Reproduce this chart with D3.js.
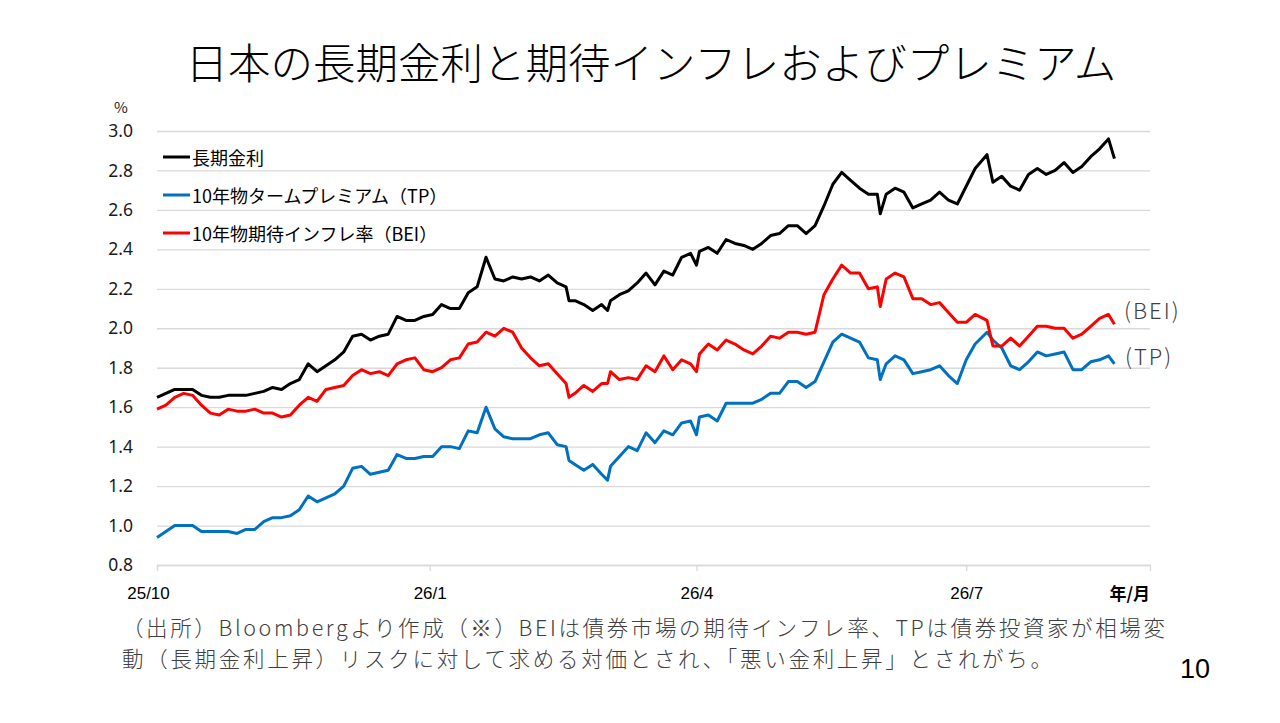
<!DOCTYPE html>
<html>
<head>
<meta charset="utf-8">
<script src="https://cdn.jsdelivr.net/npm/d3@7"></script>
<style>
  body { margin: 0; background: #fff; }
  svg { display: block; }
</style>
</head>
<body>
<div id="canvas"></div>
<script>
"use strict"

/* Data (percent) */
let dates = [
  "2025-10-01","2025-10-04","2025-10-07","2025-10-10","2025-10-13","2025-10-16","2025-10-19","2025-10-22",
  "2025-10-25","2025-10-28","2025-10-31","2025-11-03","2025-11-06","2025-11-09","2025-11-12","2025-11-15",
  "2025-11-18","2025-11-21","2025-11-24","2025-11-27","2025-11-30","2025-12-03","2025-12-06","2025-12-09",
  "2025-12-12","2025-12-15","2025-12-18","2025-12-21","2025-12-24","2025-12-27","2025-12-30","2026-01-02",
  "2026-01-05","2026-01-08","2026-01-11","2026-01-14","2026-01-17","2026-01-20","2026-01-23","2026-01-26",
  "2026-01-29","2026-02-01","2026-02-04","2026-02-07","2026-02-10","2026-02-13","2026-02-16","2026-02-17",
  "2026-02-19","2026-02-22","2026-02-25","2026-02-28","2026-03-02","2026-03-03","2026-03-06","2026-03-09",
  "2026-03-12","2026-03-15","2026-03-18","2026-03-21","2026-03-24","2026-03-27","2026-03-30","2026-04-01",
  "2026-04-02","2026-04-05","2026-04-08","2026-04-11","2026-04-14","2026-04-17","2026-04-20","2026-04-23",
  "2026-04-26","2026-04-29","2026-05-02","2026-05-05","2026-05-08","2026-05-11","2026-05-14","2026-05-17",
  "2026-05-20","2026-05-23","2026-05-26","2026-05-29","2026-06-01","2026-06-02","2026-06-04","2026-06-07",
  "2026-06-10","2026-06-13","2026-06-16","2026-06-19","2026-06-22","2026-06-25","2026-06-28","2026-07-01",
  "2026-07-04","2026-07-08","2026-07-10","2026-07-13","2026-07-16","2026-07-19","2026-07-22","2026-07-25",
  "2026-07-28","2026-07-31","2026-08-03","2026-08-06","2026-08-09","2026-08-12","2026-08-15","2026-08-18",
  "2026-08-20"
];

// 長期金利
let longRate = [
  1.65,1.67,1.69,1.69,1.69,1.66,1.65,1.65, 1.66,1.66,1.66,1.67,1.68,1.70,1.69,1.72,
  1.74,1.82,1.78,1.81,1.84,1.88,1.96,1.97, 1.94,1.96,1.97,2.06,2.04,2.04,2.06,2.07,
  2.12,2.10,2.10,2.18,2.21,2.36,2.25,2.24, 2.26,2.25,2.26,2.24,2.27,2.23,2.21,2.14,
  2.14,2.12,2.09,2.12,2.09,2.14,2.17,2.19, 2.23,2.28,2.22,2.29,2.27,2.36,2.38,2.32,
  2.39,2.41,2.38,2.45,2.43,2.42,2.40,2.43, 2.47,2.48,2.52,2.52,2.48,2.52,2.62,2.73,
  2.79,2.75,2.71,2.68,2.68,2.58,2.68,2.71, 2.69,2.61,2.63,2.65,2.69,2.65,2.63,2.72,
  2.81,2.88,2.74,2.77,2.72,2.70,2.78,2.81, 2.78,2.80,2.84,2.79,2.82,2.87,2.91,2.96,
  2.86
];

// 10年物タームプレミアム（TP）
let termPremium = [
  0.94,0.97,1.00,1.00,1.00,0.97,0.97,0.97, 0.97,0.96,0.98,0.98,1.02,1.04,1.04,1.05,
  1.08,1.15,1.12,1.14,1.16,1.20,1.29,1.30, 1.26,1.27,1.28,1.36,1.34,1.34,1.35,1.35,
  1.40,1.40,1.39,1.48,1.47,1.60,1.49,1.45, 1.44,1.44,1.44,1.46,1.47,1.41,1.40,1.33,
  1.31,1.28,1.31,1.26,1.23,1.30,1.35,1.40, 1.38,1.47,1.42,1.48,1.46,1.52,1.53,1.46,
  1.55,1.56,1.53,1.62,1.62,1.62,1.62,1.64, 1.67,1.67,1.73,1.73,1.70,1.73,1.83,1.93,
  1.97,1.95,1.93,1.85,1.84,1.74,1.82,1.86, 1.84,1.77,1.78,1.79,1.81,1.76,1.72,1.84,
  1.92,1.98,1.94,1.90,1.81,1.79,1.83,1.88, 1.86,1.87,1.88,1.79,1.79,1.83,1.84,1.86,
  1.82
];

// 10年物期待インフレ率（BEI）
let bei = [
  1.59,1.61,1.65,1.67,1.66,1.61,1.57,1.56, 1.59,1.58,1.58,1.59,1.57,1.57,1.55,1.56,
  1.61,1.65,1.63,1.69,1.70,1.71,1.76,1.79, 1.77,1.78,1.76,1.82,1.84,1.85,1.79,1.78,
  1.80,1.84,1.85,1.92,1.93,1.98,1.96,2.00, 1.98,1.90,1.85,1.81,1.82,1.77,1.72,1.65,
  1.67,1.71,1.68,1.72,1.72,1.78,1.74,1.75, 1.74,1.81,1.78,1.86,1.79,1.84,1.82,1.78,
  1.87,1.92,1.89,1.94,1.92,1.89,1.87,1.91, 1.96,1.95,1.98,1.98,1.97,1.98,2.17,2.25,
  2.32,2.28,2.28,2.20,2.21,2.11,2.25,2.28, 2.26,2.15,2.15,2.12,2.13,2.08,2.03,2.03,
  2.07,2.04,1.91,1.91,1.95,1.91,1.96,2.01, 2.01,2.00,2.00,1.95,1.97,2.01,2.05,2.07,
  2.02
];

let seriesNames = ["長期金利", "10年物タームプレミアム（TP）", "10年物期待インフレ率（BEI）"];
let seriesColors = ["#000000", "#0070C0", "#FF0000"];
let yTicks = [0.8, 1.0, 1.2, 1.4, 1.6, 1.8, 2.0, 2.2, 2.4, 2.6, 2.8, 3.0];
let xTickDates = ["2025-10-01", "2026-01-01", "2026-04-01", "2026-07-01"];
let xDomainDates = ["2025-10-01", "2026-09-01"];

/* Drawing config */
let svgWidth = 1280;
let svgHeight = 723;
let plotLeft = 157, plotRight = 1150, plotTop = 131, plotBottom = 565;
let jp = "'Noto Sans CJK JP', 'Noto Sans', sans-serif";

let parseDate = d3.timeParse("%Y-%m-%d");

let svg = d3.select("#canvas")
    .append("svg")
    .attr("width", svgWidth)
    .attr("height", svgHeight);

svg.append("rect")
    .attr("width", svgWidth)
    .attr("height", svgHeight)
    .attr("fill", "#fff");

let xScale = d3.scaleTime()
    .domain(xDomainDates.map(parseDate))
    .range([plotLeft, plotRight]);

let yScale = d3.scaleLinear()
    .domain([0.8, 3.0])
    .range([plotBottom, plotTop]);

/* Title */
svg.append("text")
    .attr("x", 651)
    .attr("y", 79)
    .attr("text-anchor", "middle")
    .style("font-family", jp)
    .style("font-weight", 300)
    .style("font-size", "42.5px")
    .attr("fill", "#000")
    .text("日本の長期金利と期待インフレおよびプレミアム");

/* Y gridlines + labels */
let yAxis = svg.append("g")
    .attr("transform", "translate(" + plotLeft + ",0)")
    .call(d3.axisLeft(yScale)
        .tickValues(yTicks)
        .tickFormat(d3.format(".1f"))
        .tickSize(-(plotRight - plotLeft))
        .tickPadding(24));
yAxis.select(".domain").remove();
yAxis.selectAll(".tick line")
    .attr("stroke", "#d9d9d9")
    .attr("stroke-width", 1.3);
yAxis.selectAll(".tick text")
    .style("font-family", "'Noto Sans', sans-serif")
    .style("font-size", "17.5px")
    .attr("fill", "#1a1a1a");

svg.append("text")
    .attr("x", 121)
    .attr("y", 113)
    .attr("text-anchor", "middle")
    .style("font-family", jp)
    .style("font-size", "15px")
    .attr("fill", "#1a1a1a")
    .text("%");

/* X axis */
let xAxis = svg.append("g")
    .attr("transform", "translate(0," + plotBottom + ")")
    .call(d3.axisBottom(xScale)
        .tickValues(xTickDates.map(parseDate))
        .tickFormat(d3.timeFormat("%y/%-m"))
        .tickSize(6)
        .tickPadding(16));
xAxis.select(".domain")
    .attr("stroke", "#d9d9d9")
    .attr("stroke-width", 1.3);
xAxis.selectAll(".tick line")
    .attr("stroke", "#d9d9d9")
    .attr("stroke-width", 1.3);
xAxis.selectAll(".tick text")
    .style("font-family", "'Liberation Sans Narrow', 'Liberation Sans', sans-serif")
    .style("font-size", "17px")
    .attr("fill", "#000")
    .attr("dx", function (d, i) { return i === 0 ? -9 : 0; });

svg.append("text")
    .attr("x", plotRight)
    .attr("y", 600)
    .attr("text-anchor", "end")
    .style("font-family", jp)
    .style("font-weight", 700)
    .style("font-size", "17px")
    .attr("fill", "#000")
    .text("年/月");

/* Lines */
let seriesValues = [longRate, termPremium, bei];
let parsedDates = dates.map(parseDate);

let line = d3.line()
    .x(function (d) { return xScale(d.date); })
    .y(function (d) { return yScale(d.value); });

seriesValues.forEach(function (values, s) {
    let points = values.map(function (v, i) { return { date: parsedDates[i], value: v }; });
    svg.append("path")
        .datum(points)
        .attr("fill", "none")
        .attr("stroke", seriesColors[s])
        .attr("stroke-width", 3)
        .attr("stroke-linejoin", "round")
        .attr("d", line);
});

/* Legend */
let legendY = [157, 195, 233];
seriesNames.forEach(function (name, i) {
    svg.append("line")
        .attr("x1", 163)
        .attr("x2", 190)
        .attr("y1", legendY[i])
        .attr("y2", legendY[i])
        .attr("stroke", seriesColors[i])
        .attr("stroke-width", 3);
    svg.append("text")
        .attr("x", 192)
        .attr("y", legendY[i])
        .attr("dominant-baseline", "central")
        .style("font-family", jp)
        .style("font-size", "18px")
        .attr("fill", "#000")
        .text(name);
});

/* Right-side labels */
svg.append("text")
    .attr("x", 1124)
    .attr("y", 309)
    .attr("dominant-baseline", "central")
    .style("font-family", jp)
    .style("font-weight", 300)
    .style("font-size", "22px")
    .style("letter-spacing", "2px")
    .attr("fill", "#404040")
    .text("(BEI)");

svg.append("text")
    .attr("x", 1125)
    .attr("y", 355)
    .attr("dominant-baseline", "central")
    .style("font-family", jp)
    .style("font-weight", 300)
    .style("font-size", "22px")
    .style("letter-spacing", "2px")
    .attr("fill", "#404040")
    .text("(TP)");

/* Footnote */
svg.append("text")
    .attr("x", 122)
    .attr("y", 636)
    .attr("textLength", 1043)
    .attr("lengthAdjust", "spacing")
    .style("font-family", jp)
    .style("font-weight", 300)
    .style("font-size", "21.5px")
    .attr("fill", "#404040")
    .text("（出所）Bloombergより作成（※）BEIは債券市場の期待インフレ率、TPは債券投資家が相場変");

svg.append("text")
    .attr("x", 122)
    .attr("y", 667)
    .attr("textLength", 930)
    .attr("lengthAdjust", "spacing")
    .style("font-family", jp)
    .style("font-weight", 300)
    .style("font-size", "21.5px")
    .attr("fill", "#404040")
    .text("動（長期金利上昇）リスクに対して求める対価とされ、「悪い金利上昇」とされがち。");

/* Page number */
svg.append("text")
    .attr("x", 1210)
    .attr("y", 678)
    .attr("text-anchor", "end")
    .style("font-family", "'Liberation Sans Narrow', 'Liberation Sans', sans-serif")
    .style("font-size", "27px")
    .attr("fill", "#000")
    .text("10");
</script>
</body>
</html>
